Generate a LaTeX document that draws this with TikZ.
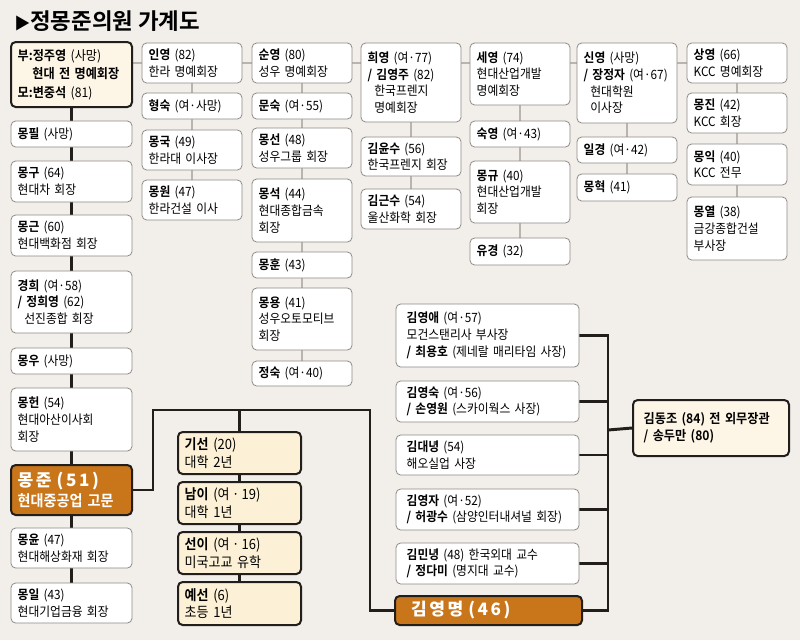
\documentclass[tikz,border=0pt]{standalone}
\usepackage{fontspec}
\setmainfont{Noto Sans CJK KR}[BoldFont={Noto Sans CJK KR Bold},FakeStretch=0.92]
\newfontfamily\hlfont{Noto Sans CJK KR Bold}[LetterSpace=15]
\newfontfamily\titlefont{Noto Sans CJK KR Bold}
\usetikzlibrary{calc}
\pgfdeclarelayer{bg}
\pgfdeclarelayer{back}
\pgfsetlayers{back,bg,main}

\definecolor{bgc}{HTML}{F2EFEB}
\definecolor{boxgray}{HTML}{8F8A85}
\definecolor{lgray}{HTML}{B9B4AE}
\definecolor{dark}{HTML}{221E1B}
\definecolor{cream}{HTML}{FCF1D6}
\definecolor{lcream}{HTML}{FDF5E6}
\definecolor{orangefill}{HTML}{C9761B}

\newcommand{\nm}[1]{\textbf{#1}}
\newcommand{\ind}{\hspace*{5pt}}
\def\ins{5}

\newcommand{\bx}[7][box]{%
 \pgfmathsetmacro\bw{(#5-#3)*0.75}%
 \pgfmathsetmacro\bh{(#6-#4)*0.75}%
 \pgfmathsetmacro\tw{(#5-#3)*0.75-2*\ins}%
 \node[#1, minimum width=\bw pt, minimum height=\bh pt, text width=\tw pt] (#2) at ({(#3+#5)/2},{(#4+#6)/2}) {#7};}

\begin{document}
\begin{tikzpicture}[x=0.75pt,y=-0.75pt,
 box/.style={draw=boxgray, fill=white, line width=0.6pt, rounded corners=3.5pt, inner xsep=\ins pt, inner ysep=0pt, align=left, font=\fontsize{9.6}{12.5}\selectfont},
 cbox/.style={box, draw=dark, line width=1.5pt, fill=cream, font=\fontsize{10.6}{13}\selectfont},
 pbox/.style={cbox, fill=lcream, font=\fontsize{9.9}{13.8}\selectfont},
 obox/.style={cbox, fill=orangefill, text=white, font=\bfseries\fontsize{11.5}{15}\selectfont},
 kbox/.style={cbox, fill=lcream, font=\bfseries\fontsize{9.9}{13}\selectfont},
 gline/.style={draw=lgray, line width=2.2pt},
 dline/.style={draw=dark, line width=2.2pt}]
\useasboundingbox (0,0) rectangle (800,640);
\begin{pgfonlayer}{back}
\fill[bgc] (0,0) rectangle (800,640);
\end{pgfonlayer}

\node[anchor=west, inner sep=0pt, font=\titlefont\fontsize{16.8}{18}\selectfont] (title) at (14,21) {{\fontsize{12}{12}\selectfont ▶}정몽준의원 가계도};

% column 1
\bx[pbox]{parent}{11}{42}{132}{107}{\nm{부:정주영} (사망)\\\hspace*{11pt}\nm{현대 전 명예회장}\\\nm{모:변중석} (81)}
\bx{mongpil}{11}{121}{132}{147}{\nm{몽필} (사망)}
\bx{monggu}{11}{161}{132}{202}{\nm{몽구} (64)\\현대차 회장}
\bx{monggeun}{11}{215}{132}{256}{\nm{몽근} (60)\\현대백화점 회장}
\bx{kyunghee}{11}{271}{132}{333}{\nm{경희} (여·58)\\\nm{/ 정희영} (62)\\\ind 선진종합 회장}
\bx{mongwoo}{11}{348}{132}{374}{\nm{몽우} (사망)}
\bx{monghun}{11}{388}{132}{451}{\nm{몽헌} (54)\\현대아산이사회\\회장}
\bx[obox]{mongjun}{11}{465}{132}{515}{{\hlfont\fontsize{12.8}{15}\selectfont 몽준 (51)}\\현대중공업 고문}
\bx{mongyun}{11}{528}{132}{568}{\nm{몽윤} (47)\\현대해상화재 회장}
\bx{mongil}{11}{583}{132}{623}{\nm{몽일} (43)\\현대기업금융 회장}

% column 2
\bx{inyoung}{142}{43}{242}{83}{\nm{인영} (82)\\한라 명예회장}
\bx{hyungsook}{142}{93}{242}{119}{\nm{형숙} (여·사망)}
\bx{mongguk}{142}{130}{242}{170}{\nm{몽국} (49)\\한라대 이사장}
\bx{mongwon}{142}{180}{242}{220}{\nm{몽원} (47)\\한라건설 이사}

% column 3
\bx{sunyoung}{252}{43}{352}{83}{\nm{순영} (80)\\성우 명예회장}
\bx{moonsook}{252}{93}{352}{119}{\nm{문숙} (여·55)}
\bx{mongsun}{252}{128}{352}{168}{\nm{몽선} (48)\\성우그룹 회장}
\bx{mongsuk}{252}{179}{352}{242}{\nm{몽석} (44)\\현대종합금속\\회장}
\bx{monghoon}{252}{252}{352}{278}{\nm{몽훈} (43)}
\bx{mongyong}{252}{288}{352}{350}{\nm{몽용} (41)\\성우오토모티브\\회장}
\bx{jungsook}{252}{361}{352}{386}{\nm{정숙} (여·40)}

% column 4
\bx{heeyoung}{361}{43}{461}{122}{\nm{희영} (여·77)\\\nm{/ 김영주} (82)\\\ind 한국프렌지\\\ind 명예회장}
\bx{yunsoo}{361}{137}{461}{176}{\nm{김윤수} (56)\\한국프렌지 회장}
\bx{geunsoo}{361}{189}{461}{229}{\nm{김근수} (54)\\울산화학 회장}

% column 5
\bx{seyoung}{470}{43}{570}{105}{\nm{세영} (74)\\현대산업개발\\명예회장}
\bx{sookyoung}{470}{121}{570}{147}{\nm{숙영} (여·43)}
\bx{monggyu}{470}{161}{570}{223}{\nm{몽규} (40)\\현대산업개발\\회장}
\bx{yukyung}{470}{238}{570}{265}{\nm{유경} (32)}

% column 6
\bx{shinyoung}{577}{43}{677}{123}{\nm{신영} (사망)\\\mbox{\nm{/ 장정자} (여·67)}\\\ind 현대학원\\\ind 이사장}
\bx{ilkyung}{577}{137}{677}{163}{\nm{일경} (여·42)}
\bx{monghyuk}{577}{174}{677}{201}{\nm{몽혁} (41)}

% column 7
\bx{sangyoung}{687}{43}{787}{83}{\nm{상영} (66)\\KCC 명예회장}
\bx{mongjin}{687}{93}{787}{133}{\nm{몽진} (42)\\KCC 회장}
\bx{mongik}{687}{144}{787}{185}{\nm{몽익} (40)\\KCC 전무}
\bx{mongyeol}{687}{197}{787}{260}{\nm{몽열} (38)\\금강종합건설\\부사장}

% children of Mong-joon
\bx[cbox]{kiseon}{178}{432}{301}{474}{\nm{기선} (20)\\대학 2년}
\bx[cbox]{nami}{178}{482}{301}{524}{\nm{남이} (여\,·\,19)\\대학 1년}
\bx[cbox]{suni}{178}{532}{301}{574}{\nm{선이} (여\,·\,16)\\미국고교 유학}
\bx[cbox]{yeseon}{178}{582}{301}{625}{\nm{예선} (6)\\초등 1년}

% Kim family
\def\ins{8}
\bx{kimya}{396}{304}{579}{367}{\nm{김영애} (여·57)\\모건스탠리사 부사장\\\mbox{\nm{/ 최용호} (제네랄 매리타임 사장)}}
\bx{kimys}{396}{381}{579}{422}{\nm{김영숙} (여·56)\\\mbox{\nm{/ 손영원} (스카이웍스 사장)}}
\bx{kimdn}{396}{435}{579}{475}{\nm{김대녕} (54)\\해오실업 사장}
\bx{kimyj}{396}{489}{579}{530}{\nm{김영자} (여·52)\\\mbox{\nm{/ 허광수} (삼양인터내셔널 회장)}}
\bx{kimmn}{396}{543}{579}{584}{\mbox{\nm{김민녕} (48) 한국외대 교수}\\\nm{/ 정다미} (명지대 교수)}
\bx[obox]{kimym}{395}{596}{582}{625}{\hspace*{4pt}{\hlfont\fontsize{12.8}{14}\selectfont 김영명 (46)}}
\bx[kbox]{kdj}{633}{400}{789}{456}{김동조 (84) 전 외무장관\\/ 송두만 (80)}
\def\ins{5}

\coordinate (c1) at (153,410);
\coordinate (c2) at (370,410);
\coordinate (kbx) at (608,430);

\begin{pgfonlayer}{bg}
% grey sibling lines
\draw[gline] (parent.east |- inyoung.west) -- (sangyoung.west);
\draw[gline] (inyoung.south) -- (mongwon.north);
\draw[gline] (sunyoung.south) -- (jungsook.north);
\draw[gline] (heeyoung.south) -- (geunsoo.north);
\draw[gline] (seyoung.south) -- (yukyung.north);
\draw[gline] (shinyoung.south) -- (monghyuk.north);
\draw[gline] (sangyoung.south) -- (mongyeol.north);
% dark lines
\draw[dline] (parent.south) -- (mongil.north);
\draw[dline] (mongjun.east) -| (c1) -- (c2) |- (kimym.west);
\draw[dline] (c1 -| kiseon.north) -- (yeseon.north);
\draw[dline] (kimya.east) -- (kimya.east -| kbx) -- (kimym.east -| kbx) -- (kimym.east);
\foreach \n in {kimys,kimdn,kimyj,kimmn} \draw[dline] (\n.east) -- (\n.east -| kbx);
\draw[dline] (kdj.west) -- (kbx);
\end{pgfonlayer}
\end{tikzpicture}
\end{document}
